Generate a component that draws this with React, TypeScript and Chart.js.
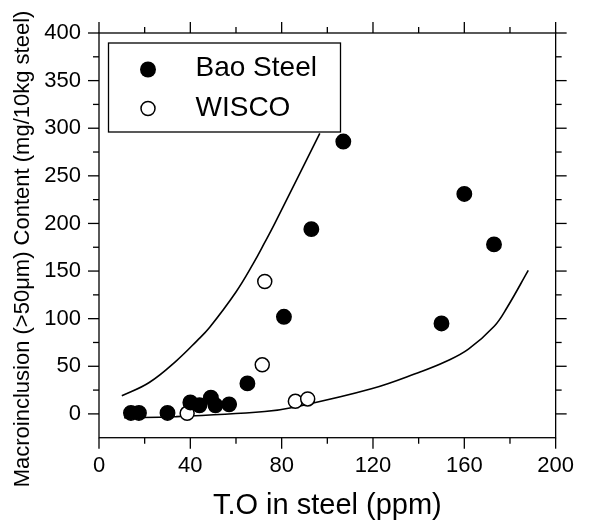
import React, { useEffect, useRef } from 'react';
import { Chart, registerables } from 'chart.js';

Chart.register(...registerables);

// ---- data ----
const baoX = [14, 17.5, 30, 40, 44, 49, 51, 57, 65, 81, 93, 107, 150, 160, 173];
const baoY = [1, 1, 1, 12, 9, 17, 9, 10, 32, 102, 194, 286, 95, 231, 178];

const wiscoX = [38.6, 71.5, 72.6, 86, 91.4];
const wiscoY = [0.6, 51.5, 139, 13.2, 15.7];

const upperX = [10, 22, 34, 43, 48.5, 60, 67.6, 72.6, 77, 96.7];
const upperY = [19, 33, 56, 77, 91, 128, 158, 180, 200, 294.5];

const lowerX = [11, 33, 72.6, 85.4, 119.3, 140.6, 151.9, 161.8, 173.1, 178.8, 188];
const lowerY = [-4, -3, 2.5, 7, 26.3, 44, 55, 68, 92, 112, 150.7];

const xMajor = [0, 40, 80, 120, 160, 200];
const xMinor = [20, 60, 100, 140, 180];
const yMajor = [0, 50, 100, 150, 200, 250, 300, 350, 400];
const yMinor = [25, 75, 125, 175, 225, 275, 325, 375];

const legendLabels = ['Bao Steel', 'WISCO'];
const xTitle = 'T.O in steel (ppm)';
const yTitle = 'Macroinclusion (>50μm) Content (mg/10kg steel)';

const FONT = "'Liberation Sans', Arial, Helvetica, sans-serif";

const pts = (xs: number[], ys: number[]) => xs.map((x, i) => ({ x, y: ys[i] }));

export default function App() {
  const ref = useRef<HTMLCanvasElement>(null);

  useEffect(() => {
    if (!ref.current) return;

    const decor = {
      id: 'decor',
      afterDatasetsDraw(chart: any) {
        const { ctx, chartArea: a } = chart;
        // legend box
        const lx = a.left + 9.5;
        const ly = a.top + 10;
        const lw = 232;
        const lh = 89;
        ctx.save();
        ctx.fillStyle = '#fff';
        ctx.fillRect(lx, ly, lw, lh);
        ctx.strokeStyle = '#000';
        ctx.lineWidth = 1.3;
        ctx.strokeRect(lx, ly, lw, lh);
        // markers
        ctx.beginPath();
        ctx.arc(lx + 39.5, ly + 26.5, 8, 0, Math.PI * 2);
        ctx.fillStyle = '#000';
        ctx.fill();
        ctx.beginPath();
        ctx.arc(lx + 39.5, ly + 65.5, 7, 0, Math.PI * 2);
        ctx.fillStyle = '#fff';
        ctx.fill();
        ctx.lineWidth = 1.5;
        ctx.stroke();
        ctx.fillStyle = '#000';
        ctx.font = `28px ${FONT}`;
        ctx.textAlign = 'left';
        ctx.textBaseline = 'middle';
        ctx.fillText(legendLabels[0], lx + 87, ly + 25.5);
        ctx.fillText(legendLabels[1], lx + 87, ly + 65.5);
        ctx.restore();
      },
      afterDraw(chart: any) {
        const { ctx, chartArea: a, scales } = chart;
        const x = scales.x;
        const y = scales.y;
        ctx.save();
        ctx.strokeStyle = '#000';
        ctx.lineWidth = 1.3;
        ctx.strokeRect(a.left, a.top, a.right - a.left, a.bottom - a.top);
        const seg = (x1: number, y1: number, x2: number, y2: number) => {
          ctx.beginPath();
          ctx.moveTo(x1, y1);
          ctx.lineTo(x2, y2);
          ctx.stroke();
        };
        const xt = (v: number, len: number) => {
          const p = x.getPixelForValue(v);
          seg(p, a.bottom, p, a.bottom + len);
          seg(p, a.top, p, a.top - len);
        };
        const yt = (v: number, len: number) => {
          const p = y.getPixelForValue(v);
          seg(a.left - len, p, a.left, p);
          seg(a.right, p, a.right + len, p);
        };
        xMajor.forEach((v) => xt(v, 11));
        xMinor.forEach((v) => xt(v, 6));
        yMajor.forEach((v) => yt(v, 11));
        yMinor.forEach((v) => yt(v, 6));
        // y title
        ctx.fillStyle = '#000';
        ctx.font = `22px ${FONT}`;
        ctx.textAlign = 'center';
        ctx.textBaseline = 'middle';
        ctx.translate(22.5, 249);
        ctx.rotate(-Math.PI / 2);
        ctx.fillText(yTitle, 0, 0);
        ctx.restore();
      },
    };

    const chart = new Chart(ref.current, {
      type: 'scatter',
      data: {
        datasets: [
          {
            label: legendLabels[0],
            data: pts(baoX, baoY),
            pointRadius: 7.2,
            pointBorderWidth: 1.5,
            pointBackgroundColor: '#000',
            pointBorderColor: '#000',
            backgroundColor: '#000',
            borderColor: '#000',
            order: 1,
          },
          {
            label: legendLabels[1],
            data: pts(wiscoX, wiscoY),
            pointRadius: 7,
            pointBorderWidth: 1.5,
            pointBackgroundColor: '#fff',
            pointBorderColor: '#000',
            backgroundColor: '#fff',
            borderColor: '#000',
            order: 2,
          },
          {
            label: 'upper',
            data: pts(upperX, upperY),
            showLine: true,
            pointRadius: 0,
            borderColor: '#000',
            borderWidth: 1.6,
            tension: 0.4,
            fill: false,
            order: 3,
          } as any,
          {
            label: 'lower',
            data: pts(lowerX, lowerY),
            showLine: true,
            pointRadius: 0,
            borderColor: '#000',
            borderWidth: 1.6,
            tension: 0.4,
            fill: false,
            order: 4,
          } as any,
        ],
      },
      options: {
        responsive: false,
        animation: false,
        layout: { padding: { left: 0, top: 33, right: 19, bottom: 0 } },
        plugins: { legend: { display: false }, tooltip: { enabled: false } },
        scales: {
          x: {
            type: 'linear',
            min: 0,
            max: 200,
            afterBuildTicks: (s: any) => {
              s.ticks = xMajor.map((v) => ({ value: v }));
            },
            afterFit: (s: any) => {
              s.height = 85.3;
            },
            grid: { display: false, drawTicks: false },
            border: { display: false },
            ticks: { padding: 15, color: '#000', font: { family: FONT, size: 22 }, maxRotation: 0 },
            title: {
              display: true,
              text: xTitle,
              color: '#000',
              font: { family: FONT, size: 29 },
              padding: { top: 0, bottom: 0 },
            },
          },
          y: {
            type: 'linear',
            min: -25,
            max: 400,
            afterBuildTicks: (s: any) => {
              s.ticks = yMajor.map((v) => ({ value: v }));
            },
            afterFit: (s: any) => {
              s.width = 99;
            },
            grid: { display: false, drawTicks: false },
            border: { display: false },
            ticks: { padding: 18, color: '#000', font: { family: FONT, size: 22 } },
          },
        },
      },
      plugins: [decor],
    } as any);

    return () => chart.destroy();
  }, []);

  return (
    <div style={{ position: 'fixed', left: 0, top: 0, width: 589, height: 523, background: '#fff' }}>
      <canvas ref={ref} width={589} height={523} style={{ display: 'block' }} />
    </div>
  );
}
